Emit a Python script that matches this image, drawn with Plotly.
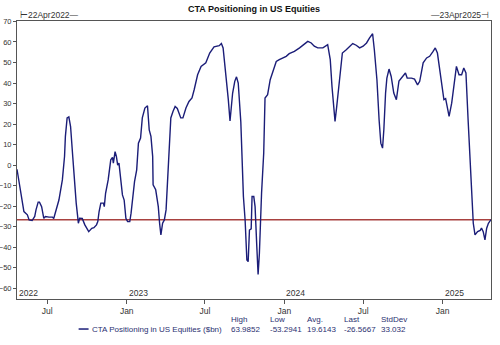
import plotly.graph_objects as go

dates = [
    "2022-04-22","2022-04-28","2022-05-04","2022-05-08","2022-05-16","2022-05-20","2022-05-27","2022-06-02",
    "2022-06-05","2022-06-10","2022-06-13","2022-06-18","2022-06-23","2022-06-27","2022-07-05","2022-07-13",
    "2022-07-16","2022-07-20","2022-07-28","2022-08-05","2022-08-10","2022-08-12","2022-08-16","2022-08-20",
    "2022-08-24","2022-08-29","2022-09-02","2022-09-06","2022-09-09","2022-09-11","2022-09-14","2022-09-20",
    "2022-09-26","2022-10-02","2022-10-05","2022-10-12","2022-10-17","2022-10-23","2022-10-26","2022-10-29",
    "2022-11-02","2022-11-08","2022-11-10","2022-11-13","2022-11-19","2022-11-25","2022-11-29","2022-12-01",
    "2022-12-05","2022-12-08","2022-12-11","2022-12-14","2022-12-18","2022-12-22","2022-12-26","2022-12-30",
    "2023-01-03","2023-01-08","2023-01-11","2023-01-15","2023-01-19","2023-01-24","2023-01-28","2023-02-02",
    "2023-02-06","2023-02-12","2023-02-18","2023-02-22","2023-02-26","2023-03-02","2023-03-03","2023-03-09",
    "2023-03-15","2023-03-18","2023-03-21","2023-03-25","2023-03-29","2023-04-02","2023-04-05","2023-04-09",
    "2023-04-13","2023-04-18","2023-04-23","2023-04-28","2023-05-06","2023-05-11","2023-05-18","2023-05-25",
    "2023-06-01","2023-06-06","2023-06-14","2023-06-22","2023-07-03","2023-07-12","2023-07-22","2023-08-03",
    "2023-08-08","2023-08-12","2023-08-18","2023-08-24","2023-08-28","2023-09-03","2023-09-08","2023-09-12",
    "2023-09-16","2023-09-22","2023-09-28","2023-10-02","2023-10-06","2023-10-09","2023-10-12","2023-10-16",
    "2023-10-18","2023-10-22","2023-10-25","2023-10-27","2023-10-29","2023-11-01","2023-11-04","2023-11-09",
    "2023-11-14","2023-11-17","2023-11-23","2023-11-29","2023-12-05","2023-12-13","2023-12-20","2023-12-28",
    "2024-01-05","2024-01-12","2024-01-24","2024-02-05","2024-02-16","2024-02-24","2024-03-03","2024-03-10",
    "2024-03-18","2024-03-30","2024-04-10","2024-04-16","2024-04-20","2024-04-24","2024-04-27","2024-05-01",
    "2024-05-07","2024-05-14","2024-05-23","2024-05-31","2024-06-07","2024-06-15","2024-06-23","2024-07-01",
    "2024-07-09","2024-07-16","2024-07-23","2024-07-27","2024-08-02","2024-08-07","2024-08-11","2024-08-15",
    "2024-08-18","2024-08-22","2024-08-25","2024-08-30","2024-09-04","2024-09-10","2024-09-16","2024-09-22",
    "2024-10-01","2024-10-07","2024-10-11","2024-10-21","2024-10-28","2024-11-04","2024-11-09","2024-11-17",
    "2024-11-25","2024-12-02","2024-12-10","2024-12-15","2024-12-20","2024-12-25","2024-12-31","2025-01-04",
    "2025-01-08","2025-01-11","2025-01-16","2025-01-22","2025-01-28","2025-02-02","2025-02-08","2025-02-14",
    "2025-02-19","2025-02-24","2025-03-01","2025-03-07","2025-03-13","2025-03-17","2025-03-23","2025-03-29",
    "2025-04-01","2025-04-05","2025-04-09","2025-04-13","2025-04-17","2025-04-23",
]
values = [
    -2, -10.4, -18.4, -22.6, -24.2, -26.7, -27, -25,
    -21.8, -18, -18, -20.2, -25.9, -25, -25.3, -25.3,
    -26, -22.6, -17, -7.2, 4.2, 14, 23, 23.5,
    18.8, 4.2, -8.8, -18.5, -24.2, -28.3, -25.9, -26,
    -29.1, -31.6, -32.4, -30.8, -30.5, -29.1, -27.5, -22.6,
    -18.5, -18.5, -20.2, -13.7, -7.2, 2.6, 3.8, 1,
    6.6, 4.2, 0, 1, -7.2, -14.5, -17, -25.9,
    -27.5, -27.5, -23.4, -15.3, -8, -2.3, 10.7, 13.2,
    23, 27.8, 28.9, 17.2, 14, 4.2, -9.6, -12,
    -20.2, -28.3, -34, -28.3, -26.7, -21.8, -8.8, 1.8,
    23, 26.1, 28.6, 27.6, 23, 23, 27.8, 31,
    32.7, 36.7, 44, 48.1, 49.8, 54.6, 57.6, 58.2,
    59.2, 57.1, 46, 32, 21.5, 35, 40.8, 43,
    40, 21, -15.3, -27, -46.2, -47, -31.6, -31,
    -15.3, -15.3, -20.2, -34.8, -39.7, -53.29, -42.9, -13.7,
    5.9, 32.7, 34.3, 41.6, 45.7, 50.5, 51.4, 52.2,
    53, 54.3, 55.4, 57.1, 58.7, 60.3, 59.5, 57.9,
    57.1, 57.1, 58.7, 51.4, 38.3, 28.6, 21.3, 28.6,
    41.6, 54.6, 56.2, 57.9, 59.2, 58.4, 57.1, 57.9,
    59.5, 62, 63.99, 56.2, 41.6, 22.1, 10.7, 8.3,
    17.2, 35.1, 42.4, 46.8, 43.2, 35.1, 31.9, 41,
    43.2, 44.9, 42.4, 42.4, 41.9, 39.1, 40.8, 49.8,
    52.2, 53, 55.4, 57.1, 54.6, 46.5, 38.3, 31.9,
    32.4, 28.6, 23.7, 30.2, 41.6, 48.1, 44, 44,
    47.3, 44.9, 22.1, -7.2, -28.3, -34, -32.4, -31.8,
    -30.7, -32.4, -36.4, -30.7, -28.3, -26.5667,
]

series_name = "CTA Positioning in US Equities ($bn)"
title_text = "CTA Positioning in US Equities"
last_value = -26.5667
stat_names = ["High", "Low", "Avg.", "Last", "StdDev"]
stat_values = ["63.9852", "-53.2941", "19.6143", "-26.5667", "33.032"]
x_tick_dates = ["2022-07-01", "2023-01-01", "2023-07-01", "2024-01-01", "2024-07-01", "2025-01-01"]
x_tick_text = ["Jul", "Jan", "Jul", "Jan", "Jul", "Jan"]
year_dates = ["2022-04-22", "2023-01-01", "2024-01-01", "2025-01-01"]
year_labels = ["2022", "2023", "2024", "2025"]
y_ticks = list(range(-60, 71, 10))
start_label = "⊢22Apr2022—"
end_label = "—23Apr2025⊣"

FONT = "Liberation Sans, Arial, sans-serif"
LINE_COLOR = "#1b1d78"
TEXT_COLOR = "#333333"
LEG_COLOR = "#2a2f70"

fig = go.Figure()
fig.add_trace(go.Scatter(x=dates, y=values, mode="lines", name=series_name,
                         line=dict(color=LINE_COLOR, width=1.4), showlegend=False))

fig.add_shape(type="line", xref="paper", yref="y", x0=0, x1=1, y0=last_value, y1=last_value,
              line=dict(color="#a8413f", width=1.5), layer="below")

annotations = []
for d, lab in zip(year_dates, year_labels):
    annotations.append(dict(x=d, y=0, xref="x", yref="paper", text=lab, showarrow=False,
                            xanchor="left", yanchor="bottom", xshift=0, yshift=-1,
                            font=dict(family=FONT, size=8.5, color=TEXT_COLOR)))

annotations.append(dict(x=0.003, y=1.023, xref="paper", yref="paper", text=start_label, showarrow=False,
                        xanchor="left", yanchor="middle", font=dict(family=FONT, size=8.5, color=TEXT_COLOR)))
annotations.append(dict(x=1.0, y=1.023, xref="paper", yref="paper", text=end_label, showarrow=False,
                        xanchor="right", yanchor="middle", font=dict(family=FONT, size=8.5, color=TEXT_COLOR)))

annotations.append(dict(x=0.153, y=-0.108, xref="paper", yref="paper", text=series_name, showarrow=False,
                        xanchor="left", yanchor="middle", font=dict(family=FONT, size=8, color=LEG_COLOR)))
stat_x = [0.4467, 0.529, 0.607, 0.685, 0.763]
for sx, nm, vl in zip(stat_x, stat_names, stat_values):
    annotations.append(dict(x=sx, y=-0.072, xref="paper", yref="paper", text=nm, showarrow=False,
                            xanchor="left", yanchor="middle", font=dict(family=FONT, size=8, color=LEG_COLOR)))
    annotations.append(dict(x=sx, y=-0.108, xref="paper", yref="paper", text=vl, showarrow=False,
                            xanchor="left", yanchor="middle", font=dict(family=FONT, size=8, color=LEG_COLOR)))

fig.add_shape(type="line", xref="paper", yref="paper", x0=0.130, x1=0.151, y0=-0.108, y1=-0.108,
              line=dict(color=LINE_COLOR, width=1.5))

fig.update_layout(
    width=500, height=345,
    margin=dict(l=17, r=9, t=21, b=46, autoexpand=False),
    paper_bgcolor="white", plot_bgcolor="white",
    title=dict(text="<b>" + title_text + "</b>", x=0.5, xref="paper", xanchor="center",
               y=1 - 9 / 345, yanchor="middle", font=dict(family=FONT, size=9, color="#111111")),
    annotations=annotations,
    showlegend=False,
)
fig.update_xaxes(type="date", range=[dates[0], dates[-1]], tickvals=x_tick_dates, ticktext=x_tick_text,
                 ticks="outside", ticklen=4, tickcolor="#555555", showgrid=False, zeroline=False,
                 showline=True, linecolor="#555555", linewidth=1, mirror=True, automargin=False,
                 ticklabelstandoff=0,
                 tickfont=dict(family=FONT, size=8.5, color=TEXT_COLOR))
fig.update_yaxes(range=[-65.2, 70.2], tickvals=y_ticks, ticks="outside", ticklen=3, tickcolor="#555555",
                 showgrid=False, zeroline=False, showline=True, linecolor="#555555", linewidth=1, mirror=True,
                 automargin=False, ticklabelstandoff=0,
                 tickfont=dict(family=FONT, size=7.5, color=TEXT_COLOR))

fig.write_html("out.html")
